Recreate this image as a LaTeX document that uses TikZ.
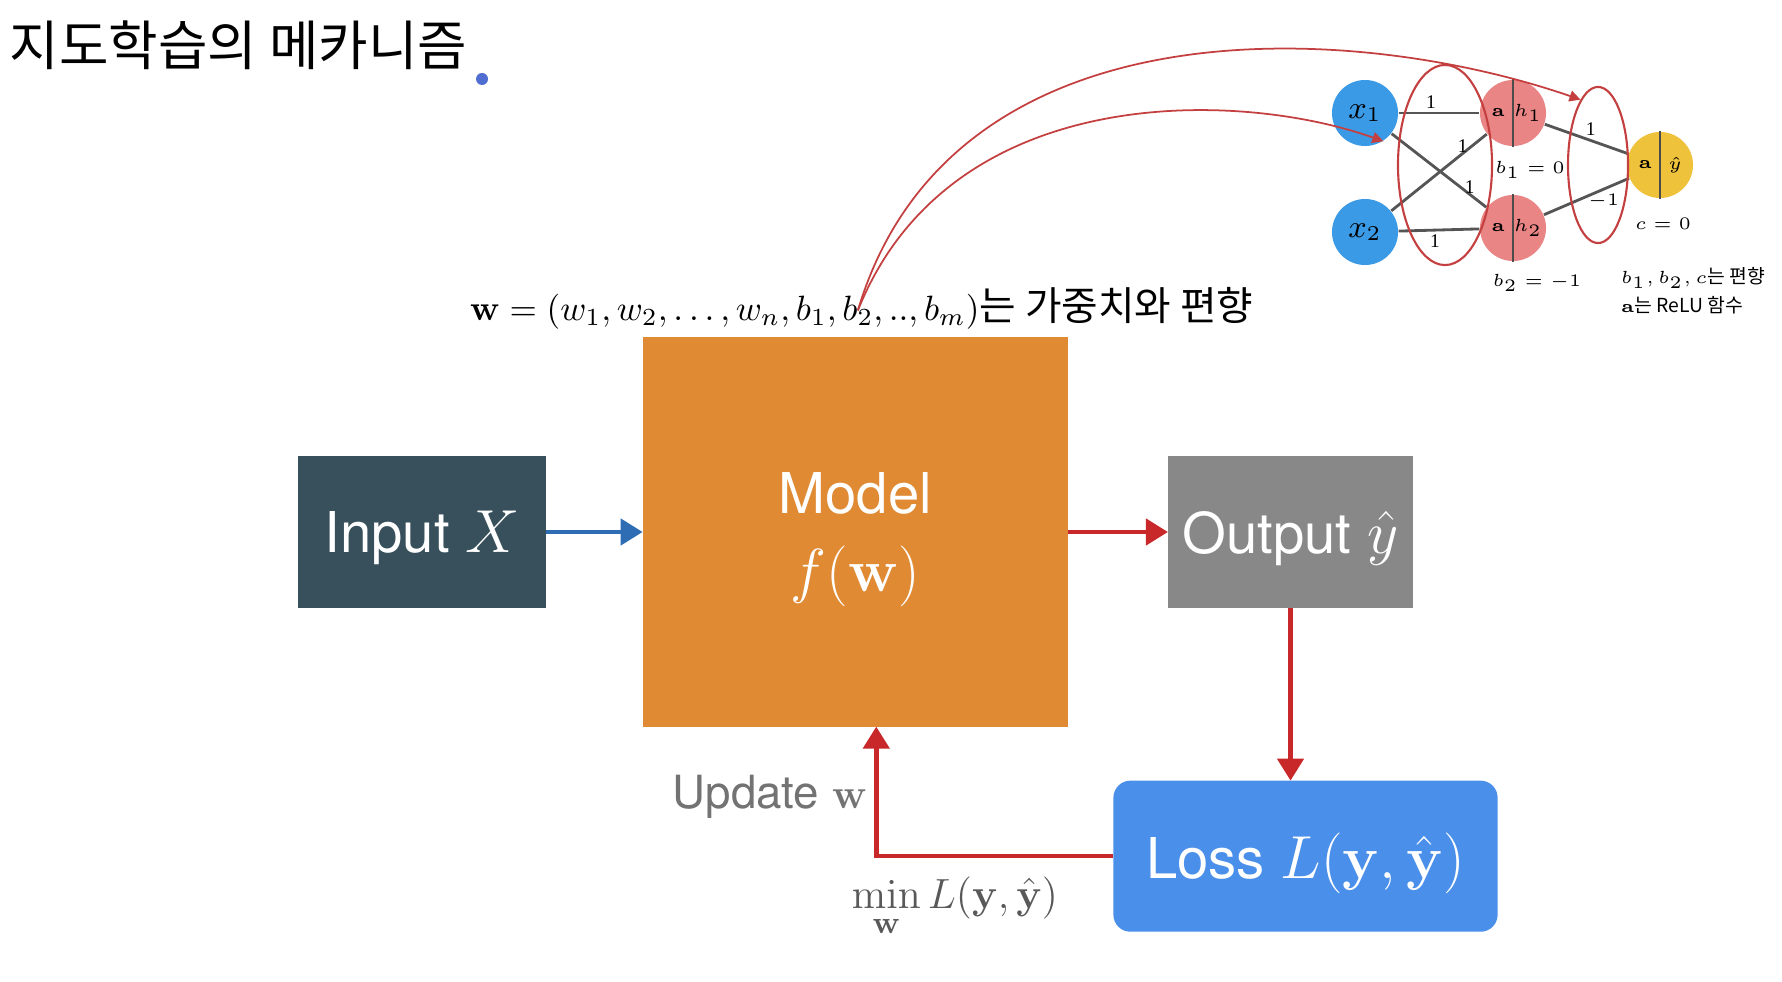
\documentclass[tikz,border=0pt]{standalone}
\usepackage{amsmath}
\usepackage[no-math]{fontspec}
\setmainfont{Liberation Serif}
\setsansfont{TeX Gyre Heros}
\newfontfamily\krfont{Noto Sans CJK KR}
\usepackage{xcolor}
\usetikzlibrary{shapes.geometric, arrows.meta, positioning}
\definecolor{slate}{RGB}{55,80,91}
\definecolor{modelor}{RGB}{224,138,51}
\definecolor{outgray}{RGB}{136,136,136}
\definecolor{lossblue}{RGB}{74,143,234}
\definecolor{arrred}{RGB}{200,40,42}
\definecolor{arrblue}{RGB}{46,109,180}
\definecolor{nodeblue}{RGB}{59,154,230}
\definecolor{nodered}{RGB}{234,133,133}
\definecolor{nodeyel}{RGB}{239,194,59}
\definecolor{ringred}{RGB}{196,64,64}
\definecolor{edgegray}{RGB}{85,85,85}
\definecolor{dotblue}{RGB}{80,110,210}

\begin{document}
\begin{tikzpicture}[x=0.01cm, y=-0.01cm,
  bx/.style={rectangle, text=white, inner sep=0pt, outer sep=0pt, text depth=0pt,
             minimum height=1.51cm, align=center, font=\sffamily\fontsize{16}{20}\selectfont},
  a/.style={-{Triangle[length=2.2mm, width=2.6mm]}, line width=1.3pt},
  c/.style={circle, minimum size=0.66cm, inner sep=0pt, font=\fontsize{9}{10}\selectfont},
  l/.style={ellipse, draw=ringred, line width=0.6pt, inner sep=0pt},
  wt/.style={draw=edgegray, line width=0.8pt},
  cv/.style={-{Triangle[length=1.1mm, width=1.1mm]}, draw=ringred, line width=0.5pt},
  wf/.style={font=\fontsize{9.8}{12}\selectfont, anchor=base west, inner sep=0pt, outer sep=0pt},
  lb/.style={font=\fontsize{5.5}{6}\selectfont, inner sep=1pt}]
  \useasboundingbox (0,0) rectangle (1782,982);

  % title
  \node[anchor=west, inner sep=0pt, font=\krfont\fontsize{15.3}{18}\selectfont] (ttl) at (9,45) {지도학습의 메카니즘};
  \node[circle, fill=dotblue, minimum size=0.12cm, inner sep=0pt] (dot) at (482,79) {};

  % main loop
  \node[bx, fill=slate, minimum width=2.47cm] (inp) at (422,532) {Input $X$};
  \node[bx, fill=modelor, minimum width=4.25cm, minimum height=3.89cm, right=0.97cm of inp] (mdl) {Model\\[2pt]$f(\mathbf{w})$};
  \node[bx, fill=outgray, minimum width=2.45cm, right=1.0cm of mdl] (outp) {Output $\hat{y}$};
  \node[bx, fill=lossblue, rounded corners=0.17cm, minimum width=3.84cm, below=1.73cm of outp, xshift=0.15cm] (lossb) {Loss $L(\mathbf{y}, \hat{\mathbf{y}})$};

  % weight vector, split so that b_2 has a name
  \node[wf] (wl) at (470,320) {$\mathbf{w} = (w_1, w_2, \ldots, w_n, b_1,\,$};
  \node[wf] (bb2) at (wl.base east) {$b_2$};
  \node[wf] (wr) at (bb2.base east) {$, .., b_m)${\krfont\fontsize{11.3}{13}\selectfont 는 가중치와 편향}};

  \draw[a, arrblue] (inp) -- (mdl);
  \draw[a, arrred] (mdl) -- (outp);
  \draw[a, arrred] (outp.south) -- (outp.south |- lossb.north);
  \coordinate (crn) at ([xshift=0.21cm]mdl.south |- lossb.west);
  \draw[a, arrred] (lossb.west) -- (crn) -- node[left=1pt, inner sep=1pt, text=black!55, text depth=0pt, font=\sffamily\fontsize{13}{15}\selectfont] {Update $\mathbf{w}$} ([xshift=0.21cm]mdl.south);
  \node[anchor=north west, text=black!65, font=\fontsize{13}{15}\selectfont, inner sep=0pt] (minl) at ([xshift=-0.25cm, yshift=-0.2cm]crn)
    {$\displaystyle\min_{\mathbf{w}} L(\mathbf{y}, \hat{\mathbf{y}})$};

  % small network
  \node[c, fill=nodeblue] (x1) at (1365,113) {$x_1$};
  \node[c, fill=nodeblue] (x2) at (1365,232) {$x_2$};
  \node[c, fill=nodered] (h1) at (1513,113) {};
  \node[c, fill=nodered] (h2) at (1513,228) {};
  \node[c, fill=nodeyel] (yh) at (1660,165) {};
  \draw[black!70, line width=0.7pt] (h1.north) -- (h1.south);
  \draw[black!70, line width=0.7pt] (h2.north) -- (h2.south);
  \draw[black!70, line width=0.7pt] (yh.north) -- (yh.south);
  \node[lb] at ([xshift=-0.15cm]h1) {$\mathbf{a}$};
  \node[lb] at ([xshift=0.15cm]h1) {$h_1$};
  \node[lb] at ([xshift=-0.15cm]h2) {$\mathbf{a}$};
  \node[lb] at ([xshift=0.15cm]h2) {$h_2$};
  \node[lb] at ([xshift=-0.15cm]yh) {$\mathbf{a}$};
  \node[lb] at ([xshift=0.15cm]yh) {$\hat{y}$};

  \draw[wt] (x1) -- node[lb, above, pos=0.4] {1} (h1);
  \draw[wt] (x2) -- node[lb, left, pos=0.85] {1} (h1);
  \draw[wt] (x1) -- node[lb, right, pos=0.72] {1} (h2);
  \draw[wt] (x2) -- node[lb, below, pos=0.45] {1} (h2);
  \draw[wt] (h1) -- node[lb, above, pos=0.55] {1} (yh);
  \draw[wt] (h2) -- node[lb, below, pos=0.7] {$-1$} (yh);

  \node[l, minimum width=0.94cm, minimum height=2cm] (l1) at (1445,165) {};
  \node[l, minimum width=0.6cm, minimum height=1.56cm] (l2) at (1598,165) {};

  \node[lb, below=0.1cm of h1, xshift=0.17cm] (b1l) {$b_1 = 0$};
  \node[lb, below=0.08cm of h2, xshift=0.24cm] (b2l) {$b_2 = -1$};
  \node[lb, below=0.15cm of yh, xshift=0.03cm] (cl) {$c = 0$};
  \node[lb, anchor=west] (n1) at (1617,278) {$b_1, b_2, c${\krfont 는 편향}};
  \node[lb, anchor=west] (n2) at (1617,305) {$\mathbf{a}${\krfont 는 ReLU 함수}};

  % links from the weights to the network
  \draw[cv] (bb2.center) .. controls (950,0) and (1350,20) .. (l2.105);
  \draw[cv] (bb2.center) .. controls (950,80) and (1240,90) .. (x1.-57);
\end{tikzpicture}
\end{document}
